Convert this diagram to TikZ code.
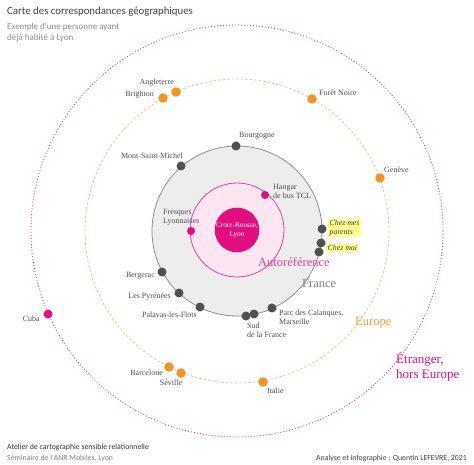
\documentclass[tikz,border=0pt]{standalone}
\usepackage{fontspec}
\setmainfont{Liberation Serif}
\newfontfamily\carlito{Carlito}
\usetikzlibrary{positioning}

\definecolor{txtgray}{HTML}{4F4F4F}
\definecolor{dotgray}{HTML}{505050}
\definecolor{fuchsia}{HTML}{E20D7E}
\definecolor{rosy}{HTML}{E0449A}
\definecolor{rosefill}{HTML}{FCE6F1}
\definecolor{francefill}{HTML}{EDEDED}
\definecolor{franceline}{HTML}{8F8F8F}
\definecolor{euroorange}{HTML}{F7931E}
\definecolor{eurodash}{HTML}{F8BE84}
\definecolor{eurotext}{HTML}{F29A3E}
\definecolor{yellowhl}{HTML}{FFFF8C}

\begin{document}
\begin{tikzpicture}[x=1pt,y=-1pt,
  gdot/.style={circle, fill=dotgray, inner sep=0pt, minimum size=9pt},
  odot/.style={circle, fill=euroorange, inner sep=0pt, minimum size=9.5pt},
  pdot/.style={circle, fill=fuchsia, inner sep=0pt, minimum size=8pt},
  place/.style={text=txtgray, font=\fontsize{8}{9}\selectfont, inner sep=1pt, align=left},
  zone/.style={font=\fontsize{12.5}{13.5}\selectfont, inner sep=0pt, align=left},
  note/.style={fill=yellowhl, text=black!75, inner sep=1.5pt, align=left, font=\fontsize{7.8}{8.8}\selectfont\itshape}]
  \useasboundingbox (0,0) rectangle (474,465);
  % zones
  \draw[rosy, line width=0.9pt, dash pattern=on 1pt off 2pt] (237,231) circle[radius=206];
  \draw[eurodash, line width=0.8pt, dash pattern=on 2.5pt off 2pt] (237,231) circle[radius=152];
  \draw[franceline, fill=francefill, line width=0.8pt] (237,231) circle[radius=85];
  \draw[rosy, fill=rosefill, line width=0.8pt] (237,230) circle[radius=47];
  \node[circle, fill=fuchsia, minimum size=44pt, inner sep=0pt, text=white, align=center,
        font=\fontsize{7.3}{9}\selectfont] (lyon) at (237,230) {Croix-Rousse,\\Lyon};

  % titles
  \node[anchor=west, inner sep=0pt, text=black!75, font=\carlito\fontsize{10.8}{12}\selectfont] (titre) at (7,12) {Carte des correspondances géographiques};
  \node[anchor=north west, inner sep=0pt, text=black!45, align=left, font=\carlito\fontsize{9}{11.5}\selectfont] (soustitre) at (7,23) {Exemple d'une personne ayant\\déjà habité à Lyon};
  \node[anchor=west, inner sep=0pt, text=black!80, font=\carlito\fontsize{7.8}{9}\selectfont] (atelier) at (7,447) {Atelier de cartographie sensible relationnelle};
  \node[anchor=west, inner sep=0pt, text=black!50, font=\carlito\fontsize{7.8}{9}\selectfont] (seminaire) at (7,458) {Séminaire de l'ANR Mobiles, Lyon};
  \node[anchor=east, inner sep=0pt, text=black!75, font=\carlito\fontsize{7.8}{9}\selectfont] (credit) at (467,458) {Analyse et infographie : Quentin LEFEVRE, 2021};

  % zone names
  \node[zone, anchor=west, text=rosy] (autoref) at (258,262) {Autoréférence};
  \node[zone, anchor=west, text=black!50] (france) at (302,283) {France};
  \node[zone, anchor=west, text=eurotext] (europe) at (355,323) {Europe};
  \node[zone, anchor=west, text=fuchsia, font=\fontsize{13}{14.5}\selectfont] (etranger) at (396,367) {Étranger,\\hors Europe};

  % autoreference
  \node[pdot] (hangar) at (265,195) {};
  \node[pdot] (fresques) at (191,231) {};
  \node[place, anchor=west] at (272,191) {Hangar\\de bus TCL};
  \node[place, anchor=west] at (162,217) {Fresques\\Lyonnaises};

  % France
  \node[gdot] (bourgogne) at (236,146) {};
  \node[gdot] (msm) at (181,166) {};
  \node[gdot] (parents) at (322,229) {};
  \node[gdot] (moia) at (321,243) {};
  \node[gdot] (moib) at (319,252) {};
  \node[gdot] (bergerac) at (162,272) {};
  \node[gdot] (pyrenees) at (179,293) {};
  \node[gdot] (palavas) at (200,307) {};
  \node[gdot] (suda) at (246,316) {};
  \node[gdot] (sudb) at (254,314) {};
  \node[gdot] (calanques) at (272,308) {};
  \node[place, anchor=west] at (238,136) {Bourgogne};
  \node[place, anchor=east] at (184,156) {Mont-Saint-Michel};
  \node[note, anchor=west] at (328,228) {Chez mes\\parents};
  \node[note, anchor=west] at (326,248) {Chez moi};
  \node[place, anchor=east] at (156,276) {Bergerac};
  \node[place, anchor=east] at (172,297) {Les Pyrénées};
  \node[place, anchor=east] at (198,315) {Palavas-les-Flots};
  \node[place, anchor=west] at (246,330) {Sud\\de la France};
  \node[place, anchor=west] at (278,317) {Parc des Calanques,\\Marseille};

  % Europe
  \node[odot] (angleterre) at (176,92) {};
  \node[odot] (brighton) at (163,98) {};
  \node[odot] (foret) at (312,99) {};
  \node[odot] (geneve) at (380,178) {};
  \node[odot] (barcelone) at (169,367) {};
  \node[odot] (seville) at (181,373) {};
  \node[odot] (italie) at (263,382) {};
  \node[place, anchor=east] at (175,83) {Angleterre};
  \node[place, anchor=east] at (155,95) {Brighton};
  \node[place, anchor=west] at (318,93) {Forêt Noire};
  \node[place, anchor=west] at (383,170) {Genève};
  \node[place, anchor=east] at (164,373) {Barcelone};
  \node[place] at (171,383) {Séville};
  \node[place, anchor=west] at (266,391) {Italie};

  % hors Europe
  \node[pdot, minimum size=9pt] (cuba) at (48,314) {};
  \node[place, anchor=east] at (41,319) {Cuba};
\end{tikzpicture}
\end{document}
